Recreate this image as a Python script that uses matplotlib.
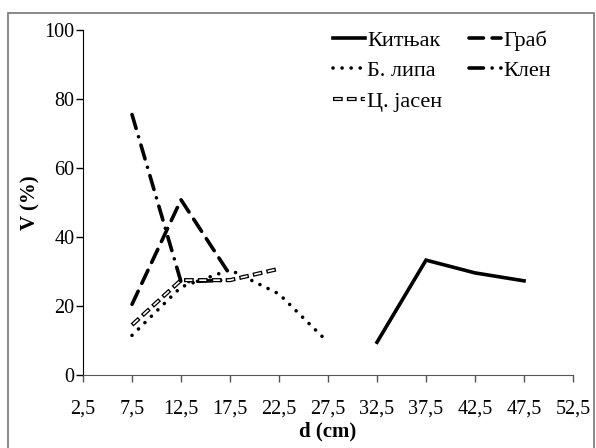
import matplotlib
matplotlib.use("Agg")
import matplotlib.pyplot as plt
from matplotlib.patches import Rectangle

plt.rcParams['font.family'] = ['Liberation Serif', 'DejaVu Serif']

# diameter classes (cm) and V (%) per species
d_kit = [32.5, 37.5, 42.5, 47.5]
v_kit = [9.5, 33.3, 29.6, 27.3]

d_grab = [7.5, 12.5, 17.5]
v_grab = [20.5, 50.8, 29.0]

d_lipa = [7.5, 12.5, 17.5, 22.5, 27.5]
v_lipa = [11.5, 25.5, 30.5, 23.5, 9.5]

d_klen = [7.5, 12.5, 17.5]
v_klen = [75.5, 27.0, 27.5]

d_jasen = [7.5, 12.5, 17.5, 22.5]
v_jasen = [14.5, 27.5, 27.5, 30.8]

xticks = [2.5, 7.5, 12.5, 17.5, 22.5, 27.5, 32.5, 37.5, 42.5, 47.5, 52.5]
xtick_labels = ['2,5', '7,5', '12,5', '17,5', '22,5', '27,5', '32,5',
                '37,5', '42,5', '47,5', '52,5']
yticks = [0, 20, 40, 60, 80, 100]

fig = plt.figure(figsize=(5.96, 4.48), dpi=100)
ax = fig.add_axes([0.1393, 0.1629, 0.8221, 0.7701])

# outer frame
fig.patches.append(Rectangle((0.013, -0.05), 0.983, 1.021, transform=fig.transFigure,
                             fill=False, edgecolor='#808080', linewidth=1.3))

l_kit, = ax.plot(d_kit, v_kit, color='black', lw=2.6, solid_joinstyle='miter')
l_grab, = ax.plot(d_grab, v_grab, color='black', lw=2.6, dashes=(4, 2.4),
                  dash_capstyle='round')
l_lipa, = ax.plot(d_lipa, v_lipa, color='black', lw=2.6, dashes=(0.01, 2.5),
                  dash_capstyle='round')
l_klen, = ax.plot(d_klen, v_klen, color='black', lw=2.6,
                  dashes=(4, 2.4, 0.01, 2.4), dash_capstyle='round')
# hollow dashes: black capsules with a white core
l_jas1, = ax.plot(d_jasen, v_jasen, color='black', lw=3.0,
                  linestyle=(0, (2.333, 1.0)), dash_capstyle='butt')
l_jas2, = ax.plot(d_jasen, v_jasen, color='white', lw=1.2,
                  linestyle=(7.5, (4.1667, 4.1667)), dash_capstyle='butt')

ax.set_xlim(2.5, 52.5)
ax.set_ylim(0, 100)
ax.set_xticks(xticks)
ax.set_xticklabels(xtick_labels)
ax.set_yticks(yticks)
ax.tick_params(axis='both', labelsize=14.5, direction='out', length=5, width=1)
ax.tick_params(axis='x', pad=13, color='#555555')
ax.tick_params(axis='y', pad=1)
ax.spines['top'].set_visible(False)
ax.spines['right'].set_visible(False)
ax.spines['bottom'].set_color('#555555')

ax.set_xlabel('d (cm)', fontsize=15, fontweight='bold', labelpad=2)
ax.set_ylabel('V (%)', fontsize=15, fontweight='bold', labelpad=3)

ax.legend([l_kit, l_lipa, (l_jas1, l_jas2), l_grab, l_klen],
          ['Китњак', 'Б. липа', 'Ц. јасен', 'Граб', 'Клен'],
          ncol=2, frameon=False, fontsize=16, loc='upper left',
          bbox_to_anchor=(0.51, 1.0), handlelength=1.45, handletextpad=0.1,
          columnspacing=1.2, labelspacing=0.45, borderaxespad=0, borderpad=0)

fig.savefig('out.png', dpi=100)
